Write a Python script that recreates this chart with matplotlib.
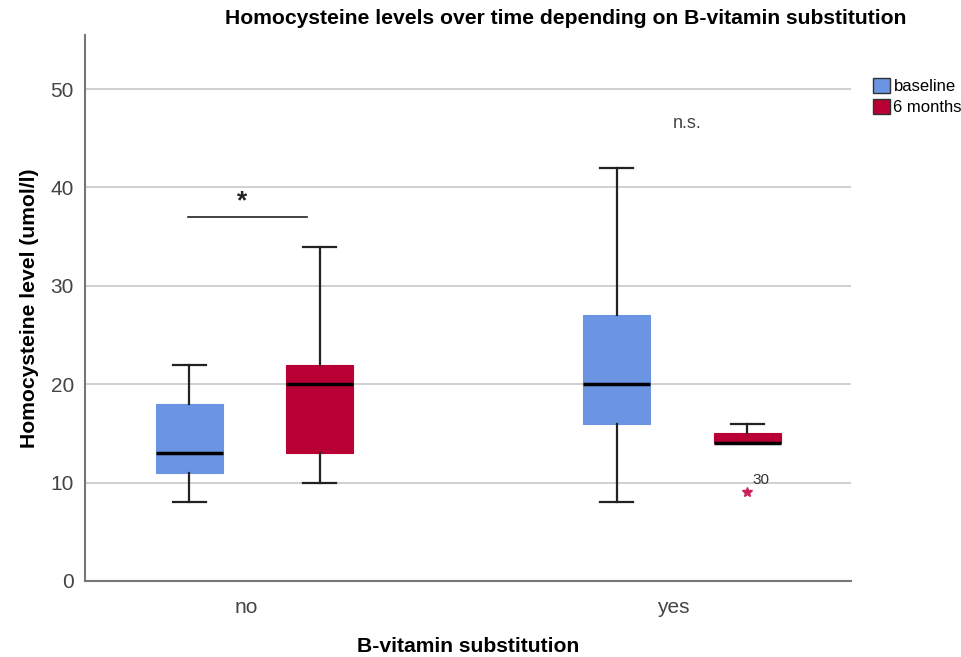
import matplotlib
matplotlib.use("Agg")
import matplotlib.pyplot as plt
from matplotlib.patches import Patch

plt.rcParams["font.family"] = ["Liberation Sans", "DejaVu Sans"]

groups = ["no", "yes"]
series = ["baseline", "6 months"]
colors = ["#6B95E3", "#B80034"]

# box statistics: [whislo, q1, med, q3, whishi]
stats_baseline = [[8, 11, 13, 18, 22], [8, 16, 20, 27, 42]]
stats_6months = [[10, 13, 20, 22, 34], [14, 14, 14, 15, 16]]
outliers_6months = [[], [9]]
outlier_labels = {9: "30"}

fig = plt.figure(figsize=(9.62, 6.57), dpi=100)
ax = fig.add_axes([0.0884, 0.1157, 0.796, 0.831])

offset = 0.153
width = 0.157
for si, (stats, col) in enumerate(zip([stats_baseline, stats_6months], colors)):
    bxp_stats = []
    for gi, s in enumerate(stats):
        bxp_stats.append({
            "whislo": s[0], "q1": s[1], "med": s[2], "q3": s[3], "whishi": s[4],
            "fliers": [],
        })
    pos = [gi + (-offset if si == 0 else offset) for gi in range(len(groups))]
    ax.bxp(bxp_stats, positions=pos, widths=width, patch_artist=True,
           showfliers=False,
           boxprops=dict(facecolor=col, edgecolor=col, linewidth=0.8),
           medianprops=dict(color="black", linewidth=2.5),
           whiskerprops=dict(color="#222222", linewidth=1.6),
           capprops=dict(color="#222222", linewidth=1.6),
           capwidths=0.077, zorder=3)
    if si == 1:
        for gi, fl in enumerate(outliers_6months):
            for v in fl:
                ax.plot(pos[gi], v, marker="*", color="#C8235A", markersize=7,
                        linestyle="none", zorder=4)
                ax.text(pos[gi] + 0.012, v + 0.6, outlier_labels[v], fontsize=11,
                        color="#333333", ha="left", va="bottom")

# significance marks
ax.plot([-0.156, 0.123], [37, 37], color="#222222", linewidth=1.2)
ax.text(-0.029, 37.4, "*", fontsize=19, fontweight="bold", ha="center", va="bottom",
        color="#222222")
ax.text(1.012, 46.5, "n.s.", fontsize=13, ha="center", va="center", color="#444444")

ax.set_xlim(-0.3965, 1.395)
ax.set_ylim(0, 55.5)
ax.set_xticks([gi - 0.02 for gi in range(len(groups))])
ax.set_xticklabels(groups)
ax.set_yticks([0, 10, 20, 30, 40, 50])
ax.tick_params(axis="both", length=0, labelsize=15, colors="#444444", pad=8)
ax.tick_params(axis="x", pad=12)
ax.yaxis.grid(True, color="#C8C8C8", linewidth=1.2, zorder=0)
ax.set_axisbelow(True)
for sp in ["top", "right"]:
    ax.spines[sp].set_visible(False)
for sp in ["left", "bottom"]:
    ax.spines[sp].set_color("#777777")
    ax.spines[sp].set_linewidth(1.5)

ax.set_ylabel("Homocysteine level (umol/l)", fontsize=15.2, fontweight="bold", labelpad=8)
ax.set_xlabel("B-vitamin substitution", fontsize=15.2, fontweight="bold", labelpad=15)
fig.text(0.588, 0.972, "Homocysteine levels over time depending on B-vitamin substitution",
         fontsize=15.2, fontweight="bold", ha="center", va="center")

handles = [Patch(facecolor=c, edgecolor="#333333", label=l) for c, l in zip(colors, series)]
fig.legend(handles=handles, loc="upper left", bbox_to_anchor=(0.901, 0.892),
           frameon=False, fontsize=12, handlelength=1.0, handleheight=1.05,
           handletextpad=0.2, labelspacing=0.3, borderaxespad=0)

fig.savefig("out.png", dpi=100)
